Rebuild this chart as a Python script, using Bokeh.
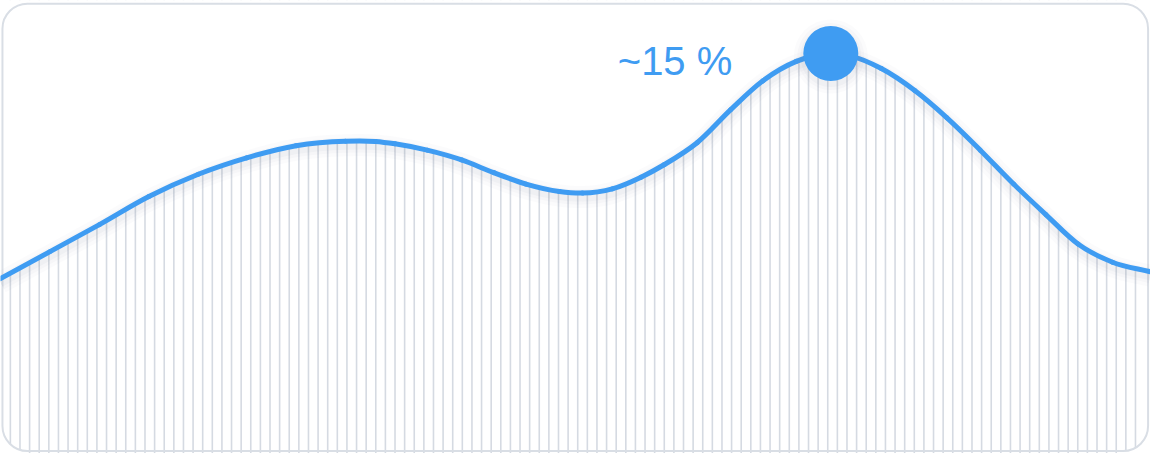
import numpy as np
from bokeh.plotting import figure
from bokeh.models import Range1d
from bokeh.embed import file_html
from bokeh.resources import INLINE
from bokeh.core.properties import value

# ---- data ----
x_pos = [0, 4.3, 8.6, 12.9, 17.2, 21.4, 25.7, 30.0, 32.6, 34.3, 37.1, 40.1, 42.9,
         45.7, 48.6, 50.6, 53.2, 55.7, 57.7, 60.6, 63.5, 66.3, 69.2, 72.2, 73.8,
         76.6, 79.5, 82.3, 85.2, 88.1, 90.9, 93.7, 96.7, 100]
share = [6.50, 7.52, 8.54, 9.60, 10.44, 11.06, 11.52, 11.69, 11.68, 11.59, 11.35, 10.98,
         10.50, 10.07, 9.79, 9.73, 9.89, 10.33, 10.80, 11.64, 12.88, 13.97, 14.70, 15.00,
         14.92, 14.43, 13.60, 12.57, 11.35, 10.07, 8.92, 7.81, 7.12, 6.76]
peak_label = "~15 %"

# ---- layout / style ----
W, H = 1150, 453
X0, X1 = 0.0, 100.0
Y0, Y1 = -0.1, 17.0
px_x = W / (X1 - X0)
px_y = H / (Y1 - Y0)
BLUE = "#3f9cf2"
STRIPE = "#d5dae2"
BORDER = "#d9dee5"
SHADOW = "#7d8aa0"
R = 25  # corner radius, px

p = figure(width=W, height=H, x_range=Range1d(X0, X1), y_range=Range1d(Y0, Y1),
           output_backend="svg", toolbar_location=None, min_border=0,
           x_axis_location=None, y_axis_location=None,
           background_fill_color="white", border_fill_color="white",
           outline_line_color=None)
p.grid.visible = False

# vertical stripes (full height, masked above the curve)
stripe_x = 0.8576 + 0.8362 * np.arange(118)
p.segment(x0=stripe_x, y0=Y0, x1=stripe_x, y1=Y1, line_color=STRIPE, line_width=1.6)

# white mask above the curve
p.varea(x=x_pos, y1=share, y2=Y1 + 1, fill_color="white")

# card border
bl, br, bb, bt = 0.17, 99.79, -0.01, 16.88
p.annular_wedge(x=[bl + R / px_x, br - R / px_x], y=[bb + R / px_y, bb + R / px_y],
                inner_radius=R, outer_radius=R * 2,
                inner_radius_units="screen", outer_radius_units="screen",
                start_angle=[np.pi, 1.5 * np.pi], end_angle=[1.5 * np.pi, 2 * np.pi],
                fill_color="white", line_color=None)
p.quad(left=bl, right=br, bottom=bb, top=bt, border_radius=R,
       fill_color=None, line_color=BORDER, line_width=2)

# smooth curve through the read points (cubic Bezier segments)
xa = np.array(x_pos, dtype=float)
ya = np.array(share, dtype=float)
m = np.gradient(ya, xa)
h = np.diff(xa)
bx0, by0, bx1, by1 = xa[:-1], ya[:-1], xa[1:], ya[1:]
cx0, cy0 = bx0 + h / 3, by0 + m[:-1] * h / 3
cx1, cy1 = bx1 - h / 3, by1 - m[1:] * h / 3

dy = 4 / px_y
for w, a in [(22, 0.03), (15, 0.04), (9, 0.05)]:
    p.bezier(x0=bx0, y0=by0 - dy, x1=bx1, y1=by1 - dy, cx0=cx0, cy0=cy0 - dy,
             cx1=cx1, cy1=cy1 - dy, line_color=SHADOW, line_alpha=a, line_width=w)

p.bezier(x0=bx0, y0=by0, x1=bx1, y1=by1, cx0=cx0, cy0=cy0, cx1=cx1, cy1=cy1,
         line_color=BLUE, line_width=5, line_cap="round")

# peak marker
i = int(np.argmax(ya))
xp, yp = xa[i], ya[i]
for s, a in [(74, 0.03), (67, 0.04), (61, 0.05)]:
    p.scatter(x=[xp], y=[yp - 3 / px_y], size=s, fill_color=SHADOW, fill_alpha=a, line_color=None)
p.scatter(x=[xp], y=[yp], size=55, fill_color=BLUE, line_color=None)

p.text(x=[xp], y=[yp], text=[peak_label], x_offset=-98.5, y_offset=8,
       text_align="right", text_baseline="alphabetic",
       text_font=value("Liberation Sans"), text_font_size="40px", text_color=BLUE)

open("out.html", "w").write(file_html(p, INLINE))
